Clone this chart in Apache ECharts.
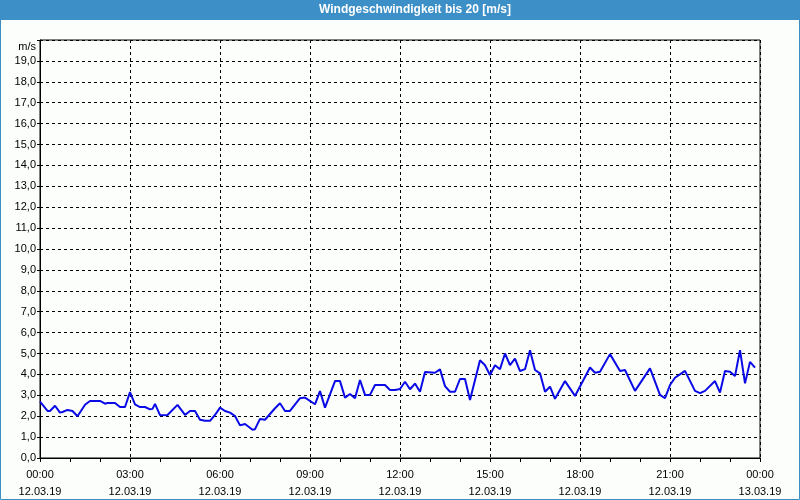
<!DOCTYPE html>
<html>
<head>
<meta charset="utf-8">
<script src="https://cdn.jsdelivr.net/npm/echarts@6/dist/echarts.min.js"></script>
<style>
html,body{margin:0;padding:0;background:#fcfefc;}
#c{width:800px;height:500px;}
</style>
</head>
<body>
<div id="c"></div>
<script>
var titleText = 'Windgeschwindigkeit bis 20 [m/s]';
var unitLabel = 'm/s';
var times = ['00:00','00:15','00:20','00:30','00:40','00:45','00:55','01:05','01:15','01:30','01:40','02:00','02:10','02:15','02:30','02:40','02:50',
'03:00','03:10','03:20','03:30','03:40','03:45','03:50','04:00','04:15','04:35','04:50','05:00','05:10','05:20','05:30','05:40','05:50',
'06:00','06:10','06:20','06:30','06:40','06:50','07:05','07:10','07:20','07:30','07:50','08:00','08:10','08:20','08:40','08:50',
'09:10','09:20','09:30','09:50','10:00','10:10','10:20','10:30','10:40','10:50','11:00','11:10','11:30','11:40','11:50',
'12:00','12:10','12:20','12:30','12:40','12:50','13:10','13:20','13:30','13:40','13:50','14:00','14:10','14:20','14:40','14:50',
'15:00','15:10','15:20','15:30','15:40','15:50','16:00','16:10','16:20','16:30','16:40','16:50','17:00','17:10','17:30','17:50',
'18:20','18:30','18:40','19:00','19:20','19:30','19:50','20:20','20:40','20:50',
'21:00','21:10','21:30','21:50','22:00','22:10','22:30','22:40','22:50','23:00','23:10','23:20','23:30','23:40','23:50'];
var speeds = [2.7,2.25,2.25,2.5,2.17,2.2,2.3,2.25,2.0,2.55,2.73,2.73,2.6,2.63,2.63,2.44,2.44,
3.15,2.57,2.44,2.44,2.33,2.35,2.59,2.05,2.06,2.54,2.06,2.25,2.25,1.83,1.78,1.78,2.06,
2.41,2.25,2.17,2.01,1.56,1.63,1.35,1.38,1.87,1.83,2.38,2.62,2.25,2.25,2.86,2.89,
2.57,3.2,2.41,3.68,3.68,2.89,3.06,2.86,3.73,3.02,3.02,3.49,3.49,3.25,3.25,
3.3,3.65,3.29,3.56,3.17,4.11,4.08,4.24,3.44,3.17,3.17,3.78,3.78,2.78,4.68,4.44,
3.97,4.44,4.25,5.0,4.44,4.76,4.16,4.25,5.16,4.21,4.05,3.17,3.41,2.83,3.68,2.97,
4.33,4.08,4.13,4.97,4.16,4.21,3.21,4.29,3.02,2.86,
3.49,3.84,4.17,3.21,3.1,3.21,3.68,3.13,4.16,4.13,3.92,5.16,3.57,4.6,4.32];
var day = [2019, 2, 12];
var yMin = 0, yMax = 20, yStep = 1;
var xStepHours = 3;

function ts(hm){ var p = hm.split(':'); return Date.UTC(day[0], day[1], day[2], +p[0], +p[1]); }
var seriesData = times.map(function(t,i){ return [ts(t), speeds[i]]; });
var xMin = Date.UTC(day[0], day[1], day[2], 0, 0);
var xMax = xMin + 24*3600*1000;
function pad(n){ return (n<10?'0':'')+n; }

var chart = echarts.init(document.getElementById('c'), null, {renderer:'canvas'});
chart.setOption({
  backgroundColor: '#fcfefc',
  animation: false,
  graphic: [
    {type:'rect', shape:{x:0, y:0, width:800, height:20}, style:{fill:'#3d8fc7'}, z:0},
    {type:'rect', shape:{x:0.5, y:0.5, width:799, height:499}, style:{fill:'none', stroke:'#3d8fc7', lineWidth:1}, z:0},
    {type:'text', x:415, y:10, style:{text:titleText, fill:'#ffffff', font:'bold 12px "Liberation Sans"', textAlign:'center', textVerticalAlign:'middle'}, z:1}
  ],
  grid: {left:40, right:40, top:40, bottom:40, show:true, borderColor:'#000', borderWidth:1, backgroundColor:'transparent'},
  xAxis: {
    type:'value', min:xMin, max:xMax, interval:xStepHours*3600*1000,
    axisLine:{show:true, onZero:false, lineStyle:{color:'#000', width:1}},
    axisTick:{show:true, length:4, lineStyle:{color:'#000'}},
    minorTick:{show:true, splitNumber:3, length:4, lineStyle:{color:'#000'}},
    splitLine:{show:true, lineStyle:{color:'#000', type:[3,3], width:1}},
    axisLabel:{
      color:'#000', fontFamily:'Liberation Sans', fontSize:11, lineHeight:17, margin:8,
      showMinLabel:true, showMaxLabel:true, hideOverlap:false,
      formatter:function(v){ var d = new Date(v); return pad(d.getUTCHours())+':'+pad(d.getUTCMinutes())+'\n'+pad(d.getUTCDate())+'.'+pad(d.getUTCMonth()+1)+'.'+String(d.getUTCFullYear()).slice(2); }
    }
  },
  yAxis: {
    type:'value', min:yMin, max:yMax, interval:yStep,
    name:unitLabel, nameLocation:'end', nameGap:-7,
    nameTextStyle:{color:'#000', fontFamily:'Liberation Sans', fontSize:11, align:'right', verticalAlign:'middle', padding:[0,4,0,0]},
    axisLine:{show:true, lineStyle:{color:'#000', width:1}},
    axisTick:{show:true, length:3, lineStyle:{color:'#000'}},
    splitLine:{show:true, lineStyle:{color:'#000', type:[3,3], width:1}},
    axisLabel:{color:'#000', fontFamily:'Liberation Sans', fontSize:11, margin:4,
      formatter:function(v){ return v >= yMax ? '' : v.toFixed(1).replace('.', ','); }}
  },
  series: [{
    type:'line', data:seriesData, showSymbol:false, symbol:'none',
    lineStyle:{color:'#0a0ae6', width:2}, itemStyle:{color:'#0a0ae6'}
  }]
});
</script>
</body>
</html>
